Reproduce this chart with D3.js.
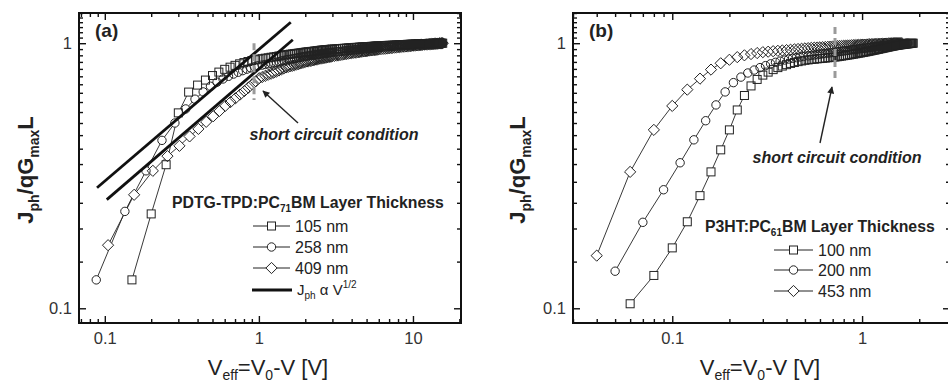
<!DOCTYPE html>
<html><head><meta charset="utf-8">
<script src="https://cdn.jsdelivr.net/npm/d3@7"></script>
<style>
html,body{margin:0;padding:0;background:#fff;}
svg{display:block;font-family:"Liberation Sans",Arial,Helvetica,sans-serif;}
</style></head>
<body>
<svg id="c" width="948" height="385"></svg>
<script>
// ---------- Panel (a) data: PDTG-TPD:PC71BM ----------
const a105V = [0.15,0.2,0.25,0.3,0.35,0.4,0.45,0.5,0.55,0.6,0.65,0.7,0.75,0.8,0.85,0.9,0.95,1.0];
const a105J = [0.128,0.227,0.348,0.546,0.654,0.695,0.726,0.755,0.778,0.797,0.812,0.825,0.836,0.845,0.853,0.86,0.866,0.871];
const a258V = [0.088,0.135,0.185,0.235,0.285,0.335,0.385,0.435,0.485,0.535,0.585,0.635,0.685,0.735,0.785,0.835,0.885,0.935,0.985];
const a258J = [0.128,0.232,0.33,0.43,0.5,0.565,0.615,0.655,0.688,0.713,0.733,0.75,0.765,0.777,0.788,0.798,0.807,0.815,0.822];
const a409V = [0.105,0.155,0.205,0.255,0.305,0.355,0.405,0.455,0.505,0.555,0.605,0.655,0.705,0.755,0.805,0.855,0.905,0.955,1.005];
const a409J = [0.173,0.268,0.33,0.375,0.41,0.445,0.475,0.505,0.53,0.555,0.58,0.6,0.62,0.64,0.66,0.68,0.7,0.718,0.738];
const aHighV = [1.05,1.1,1.15,1.2,1.25,1.3,1.35,1.4,1.45,1.5,1.55,1.6,1.65,1.7,1.75,1.8,1.85,1.9,1.95,2,
  2.05,2.1,2.15,2.2,2.25,2.3,2.35,2.4,2.45,2.5,2.55,2.6,2.65,2.7,2.75,2.8,2.85,2.9,2.95,3,
  3.1,3.2,3.3,3.4,3.5,3.6,3.7,3.8,3.9,4,4.1,4.2,4.3,4.4,4.5,4.6,4.7,4.8,4.9,5,5.1,5.2,5.3,5.4,5.5,5.6,5.7,5.8,5.9,6,
  6.2,6.4,6.6,6.8,7,7.2,7.4,7.6,7.8,8,8.2,8.4,8.6,8.8,9,9.2,9.4,9.6,9.8,10,
  10.2,10.4,10.6,10.8,11,11.2,11.4,11.6,11.8,12,12.2,12.4,12.6,12.8,13,13.2,13.4,13.6,13.8,14,14.2,14.4,14.6,14.8,15,15.2,15.4,15.6];
const a105High = [0.874,0.878,0.881,0.885,0.888,0.891,0.895,0.898,0.902,0.905,0.907,0.909,0.911,0.913,0.915,0.917,0.919,0.921,0.923,0.925,
  0.927,0.928,0.929,0.931,0.932,0.934,0.935,0.937,0.938,0.94,0.941,0.942,0.943,0.944,0.945,0.946,0.947,0.948,0.949,0.95,
  0.951,0.952,0.954,0.955,0.956,0.957,0.958,0.96,0.961,0.962,0.963,0.964,0.964,0.965,0.966,0.967,0.968,0.968,0.969,0.97,
  0.971,0.971,0.972,0.973,0.973,0.974,0.975,0.975,0.976,0.977,
  0.978,0.979,0.98,0.981,0.982,0.982,0.983,0.984,0.985,0.986,0.987,0.987,0.988,0.988,0.989,0.99,0.99,0.991,0.991,0.992,
  0.992,0.993,0.993,0.993,0.994,0.994,0.995,0.995,0.995,0.996,0.996,0.996,0.997,0.997,0.997,0.997,0.998,0.998,0.998,0.998,
  0.999,0.999,0.999,0.999,1.0,1.0,1.0,1.0];
const a258High = [0.827,0.831,0.836,0.84,0.844,0.848,0.852,0.857,0.861,0.865,0.868,0.87,0.873,0.876,0.879,0.881,0.884,0.887,0.889,0.892,
  0.894,0.896,0.897,0.899,0.901,0.903,0.905,0.906,0.908,0.91,0.911,0.913,0.914,0.916,0.917,0.918,0.92,0.921,0.923,0.924,
  0.926,0.928,0.929,0.931,0.933,0.935,0.937,0.938,0.94,0.942,0.943,0.945,0.946,0.947,0.949,0.95,0.951,0.952,0.954,0.955,
  0.956,0.957,0.958,0.959,0.96,0.96,0.961,0.962,0.963,0.964,
  0.965,0.967,0.968,0.969,0.971,0.972,0.973,0.974,0.976,0.977,0.978,0.979,0.98,0.981,0.982,0.982,0.983,0.984,0.985,0.986,
  0.987,0.987,0.988,0.989,0.99,0.99,0.991,0.992,0.992,0.993,0.993,0.994,0.994,0.995,0.995,0.995,0.996,0.996,0.997,0.997,
  0.997,0.998,0.998,0.999,0.999,0.999,1.0,1.0];
const a409High = [0.745,0.753,0.76,0.767,0.774,0.781,0.789,0.796,0.803,0.81,0.814,0.818,0.822,0.826,0.83,0.834,0.838,0.842,0.846,0.85,
  0.853,0.855,0.858,0.86,0.863,0.865,0.868,0.87,0.873,0.875,0.877,0.879,0.88,0.882,0.884,0.886,0.888,0.889,0.891,0.893,
  0.896,0.898,0.901,0.903,0.906,0.908,0.911,0.913,0.916,0.918,0.92,0.921,0.923,0.925,0.927,0.928,0.93,0.932,0.933,0.935,
  0.936,0.938,0.939,0.94,0.942,0.943,0.944,0.946,0.947,0.948,
  0.95,0.952,0.953,0.955,0.957,0.959,0.961,0.962,0.964,0.966,0.967,0.969,0.97,0.971,0.972,0.974,0.975,0.976,0.978,0.979,
  0.98,0.981,0.982,0.983,0.984,0.985,0.986,0.987,0.988,0.989,0.99,0.99,0.991,0.992,0.992,0.993,0.994,0.994,0.995,0.996,
  0.996,0.997,0.997,0.998,0.999,0.999,1.0,1.0];
// J_ph ~ V^1/2 guide lines (end points)
const fit1V = [0.089,1.61], fit1J = [0.285,1.2];
const fit2V = [0.103,1.66], fit2J = [0.257,1.03];
const aShortV = 0.93, aShortJ = [0.61,1.0];

// ---------- Panel (b) data: P3HT:PC61BM ----------
const b100V = [0.06,0.08,0.1,0.12,0.14,0.16,0.18,0.2,0.22,0.24,0.26,0.28,0.3,0.32,0.34,0.36,0.38,0.4,0.42,0.44,0.46,0.48,0.5];
const b100J = [0.104,0.133,0.169,0.212,0.266,0.327,0.396,0.471,0.56,0.635,0.69,0.73,0.758,0.778,0.795,0.809,0.82,0.83,0.839,0.846,0.852,0.857,0.862];
const b200V = [0.05,0.07,0.09,0.11,0.13,0.15,0.17,0.19,0.21,0.23,0.25,0.27,0.29,0.31,0.33,0.35,0.37,0.39,0.41,0.43,0.45,0.47,0.49];
const b200J = [0.138,0.211,0.28,0.354,0.432,0.51,0.585,0.655,0.71,0.745,0.772,0.792,0.809,0.823,0.836,0.847,0.856,0.864,0.871,0.877,0.882,0.887,0.891];
const b453V = [0.04,0.06,0.08,0.1,0.12,0.14,0.16,0.18,0.2,0.22,0.24,0.26,0.28,0.3,0.32,0.34,0.36,0.38,0.4,0.42,0.44,0.46,0.48,0.5];
const b453J = [0.158,0.327,0.471,0.58,0.668,0.735,0.795,0.84,0.866,0.886,0.9,0.91,0.918,0.925,0.929,0.933,0.936,0.939,0.942,0.945,0.948,0.951,0.953,0.956];
const bHighV = [0.52,0.54,0.56,0.58,0.6,0.62,0.64,0.66,0.68,0.7,0.72,0.74,0.76,0.78,0.8,0.82,0.84,0.86,0.88,0.9,
  0.92,0.94,0.96,0.98,1,1.02,1.04,1.06,1.08,1.1,1.12,1.14,1.16,1.18,1.2,1.22,1.24,1.26,1.28,1.3,
  1.32,1.34,1.36,1.38,1.4,1.42,1.44,1.46,1.48,1.5,1.52,1.54,1.56,1.58,1.6,1.62,1.64,1.66,1.68,1.7,
  1.72,1.74,1.76,1.78,1.8,1.82,1.84,1.86];
const b100High = [0.865,0.868,0.87,0.873,0.875,0.877,0.879,0.881,0.883,0.885,0.887,0.889,0.892,0.894,0.897,0.899,0.902,0.904,0.907,0.909,
  0.912,0.914,0.917,0.919,0.922,0.924,0.927,0.929,0.932,0.934,0.937,0.939,0.942,0.944,0.947,0.949,0.952,0.954,0.957,0.959,
  0.961,0.964,0.966,0.968,0.97,0.972,0.974,0.976,0.978,0.98,0.981,0.983,0.984,0.986,0.987,0.988,0.989,0.99,0.992,0.993,
  0.994,0.995,0.996,0.997,0.998,0.999,1.0,1.0];
const b200High = [0.896,0.9,0.903,0.906,0.909,0.912,0.915,0.918,0.92,0.923,0.925,0.928,0.93,0.933,0.935,0.937,0.939,0.942,0.944,0.946,
  0.948,0.95,0.952,0.954,0.956,0.957,0.959,0.961,0.963,0.965,0.966,0.968,0.969,0.971,0.972,0.974,0.975,0.977,0.978,0.98,
  0.981,0.982,0.983,0.984,0.985,0.986,0.987,0.988,0.99,0.991,0.992,0.993,0.993,0.994,0.995,0.996,0.997,0.997,0.998,0.999,
  1.0,1.0,null,null,null,null,null,null];
const b453High = [0.958,0.96,0.962,0.963,0.965,0.966,0.968,0.969,0.971,0.972,0.973,0.975,0.976,0.977,0.978,0.979,0.98,0.981,0.982,0.983,
  0.984,0.985,0.985,0.986,0.987,0.988,0.988,0.989,0.99,0.991,0.991,0.992,0.992,0.993,0.993,0.994,0.994,0.995,0.995,0.996,
  0.996,0.997,0.997,0.998,0.998,0.999,0.999,1.0,1.0,1.0,1.0,1.0,1.0,1.0,1.0,1.0,
  null,null,null,null,null,null,null,null,null,null,null,null];
const bShortV = 0.72, bShortJ = [0.726,1.15];

// ---------- tick labels / legend text ----------
const aXTicks = [0.1,1,10], aXLabels = ["0.1","1","10"];
const bXTicks = [0.1,1], bXLabels = ["0.1","1"];
const yTicks = [0.1,1], yLabels = ["0.1","1"];
const aLegend = ["105 nm","258 nm","409 nm"];
const bLegend = ["100 nm","200 nm","453 nm"];
const shapes = ["square","circle","diamond"];

// ---------- drawing ----------
const svg = d3.select("#c");
const defs = svg.append("defs");
defs.append("marker").attr("id","arr").attr("viewBox","0 0 10 10").attr("refX",9).attr("refY",5)
  .attr("markerWidth",9).attr("markerHeight",7).attr("markerUnits","userSpaceOnUse").attr("orient","auto")
  .append("path").attr("d","M0,0 L10,5 L0,10 z").attr("fill","#222");

const TOP=13, BOT=323;
const yScale = d3.scaleLog().domain([0.088,1.3]).range([BOT,TOP]);
const panels = [
  {x: d3.scaleLog().domain([0.068,20.5]).range([79,461]), xt:aXTicks, xl:aXLabels, tag:"(a)",
   series:[[a105V,a105J,aHighV,a105High],[a258V,a258J,aHighV,a258High],[a409V,a409J,aHighV,a409High]]},
  {x: d3.scaleLog().domain([0.03,2.905]).range([573,950]), xt:bXTicks, xl:bXLabels, tag:"(b)",
   series:[[b100V,b100J,bHighV,b100High],[b200V,b200J,bHighV,b200High],[b453V,b453J,bHighV,b453High]]}
];

function sym(g, shape, cx, cy){
  if(shape==="square") g.append("rect").attr("x",cx-4).attr("y",cy-4).attr("width",8).attr("height",8);
  else if(shape==="circle") g.append("circle").attr("cx",cx).attr("cy",cy).attr("r",4.2);
  else g.append("path").attr("d",`M${cx},${cy-5.6}L${cx+5.6},${cy}L${cx},${cy+5.6}L${cx-5.6},${cy}Z`);
}

panels.forEach((p,pi)=>{
  const x = p.x, [L,R] = x.range();
  const g = svg.append("g");
  const minorX = x.ticks(30).filter(v=>!p.xt.some(t=>Math.abs(t-v)<1e-9));
  const minorY = yScale.ticks(30).filter(v=>!yTicks.some(t=>Math.abs(t-v)<1e-9));
  const mk = (gen, pos)=>{ const a = g.append("g").attr("transform",pos).call(gen); a.select(".domain").remove(); return a; };
  const bx = mk(d3.axisBottom(x).tickValues(p.xt).tickFormat((d,i)=>p.xl[i]).tickSize(-7).tickPadding(9), `translate(0,${BOT})`);
  mk(d3.axisBottom(x).tickValues(minorX).tickFormat("").tickSize(-4), `translate(0,${BOT})`);
  mk(d3.axisTop(x).tickValues(p.xt).tickFormat("").tickSize(-7), `translate(0,${TOP})`);
  mk(d3.axisTop(x).tickValues(minorX).tickFormat("").tickSize(-4), `translate(0,${TOP})`);
  const ly = mk(d3.axisLeft(yScale).tickValues(yTicks).tickFormat((d,i)=>yLabels[i]).tickSize(-7).tickPadding(7), `translate(${L},0)`);
  mk(d3.axisLeft(yScale).tickValues(minorY).tickFormat("").tickSize(-4), `translate(${L},0)`);
  mk(d3.axisRight(yScale).tickValues(yTicks).tickFormat("").tickSize(-7), `translate(${R},0)`);
  mk(d3.axisRight(yScale).tickValues(minorY).tickFormat("").tickSize(-4), `translate(${R},0)`);
  g.selectAll(".tick line").attr("stroke","#111").attr("stroke-width",1.4);
  [bx,ly].forEach(a=>a.selectAll("text").attr("font-size","16.5px").attr("fill","#333").attr("font-family","Liberation Sans, Arial, sans-serif"));
  g.append("rect").attr("x",L).attr("y",TOP).attr("width",R-L).attr("height",BOT-TOP)
    .attr("fill","none").attr("stroke","#111").attr("stroke-width",2);

  const line = d3.line().x(d=>x(d[0])).y(d=>yScale(d[1]));
  const allPts = p.series.map(s=> s[0].map((v,i)=>[v,s[1][i]]).concat(s[2].map((v,i)=>[v,s[3][i]]).filter(d=>d[1]!==null)));
  // layer 1: connecting lines
  allPts.forEach(pts=> g.append("path").attr("d",line(pts)).attr("fill","none").attr("stroke","#222").attr("stroke-width",0.9));
  // layer 2: white marker bodies
  const fillG = g.append("g").attr("fill","#fff").attr("stroke","none");
  allPts.forEach((pts,si)=> pts.forEach(d=>sym(fillG, shapes[si], x(d[0]), yScale(d[1]))));
  // layer 3: marker outlines
  const outG = g.append("g").attr("fill","none").attr("stroke","#222").attr("stroke-width",1);
  allPts.forEach((pts,si)=> pts.forEach(d=>sym(outG, shapes[si], x(d[0]), yScale(d[1]))));

  g.append("text").attr("x",L+16).attr("y",37).attr("font-size","19px").attr("font-weight","bold").attr("fill","#222").text(p.tag);
});

const xa = panels[0].x, xb = panels[1].x;
[[fit1V,fit1J],[fit2V,fit2J]].forEach(f=>{
  svg.append("line").attr("x1",xa(f[0][0])).attr("y1",yScale(f[1][0])).attr("x2",xa(f[0][1])).attr("y2",yScale(f[1][1]))
    .attr("stroke","#111").attr("stroke-width",2.8);
});

function shortCircuit(x, v, js, arrowFrom, arrowTo, textX, textY){
  svg.append("line").attr("x1",x(v)).attr("x2",x(v)).attr("y1",yScale(js[1])).attr("y2",yScale(js[0]))
    .attr("stroke","#9a9a9a").attr("stroke-width",3).attr("stroke-dasharray","7,4");
  svg.append("line").attr("x1",arrowFrom[0]).attr("y1",arrowFrom[1]).attr("x2",arrowTo[0]).attr("y2",arrowTo[1])
    .attr("stroke","#222").attr("stroke-width",1.4).attr("marker-end","url(#arr)");
  svg.append("text").attr("x",textX).attr("y",textY).attr("text-anchor","middle").attr("font-size","16px")
    .attr("font-weight","bold").attr("font-style","italic").attr("fill","#222").text("short circuit condition");
}
shortCircuit(xa, aShortV, aShortJ, [298,123], [263,91], 334, 140);
shortCircuit(xb, bShortV, bShortJ, [820,143], [832,87], 837, 163);

function legend(x0, titleY, title, sub, rest, labels, rowYs, lineX){
  const t = svg.append("text").attr("x",x0).attr("y",titleY).attr("font-size","15.8px").attr("font-weight","bold").attr("fill","#222");
  t.append("tspan").text(title);
  t.append("tspan").attr("font-size","10px").attr("dy",4).text(sub);
  t.append("tspan").attr("dy",-4).text(rest);
  labels.forEach((lab,i)=>{
    const y = rowYs[i];
    svg.append("line").attr("x1",lineX[0]).attr("x2",lineX[1]).attr("y1",y).attr("y2",y).attr("stroke","#222").attr("stroke-width",1);
    const mg = svg.append("g").attr("fill","#fff").attr("stroke","#222").attr("stroke-width",1);
    sym(mg, shapes[i], (lineX[0]+lineX[1])/2, y);
    svg.append("text").attr("x",lineX[1]+5).attr("y",y+5.5).attr("font-size","16px").attr("fill","#222").text(lab);
  });
}
legend(172, 208, "PDTG-TPD:PC", "71", "BM Layer Thickness", aLegend, [226,247,268], [253,290]);
legend(705, 232, "P3HT:PC", "61", "BM Layer Thickness", bLegend, [250,270,291], [774,813]);
svg.append("line").attr("x1",252).attr("x2",292).attr("y1",290).attr("y2",290).attr("stroke","#111").attr("stroke-width",2.8);
const jl = svg.append("text").attr("x",297).attr("y",295).attr("font-size","15px").attr("fill","#222");
jl.append("tspan").text("J");
jl.append("tspan").attr("font-size","10px").attr("dy",4).text("ph");
jl.append("tspan").attr("dy",-4).text(" α V");
jl.append("tspan").attr("font-size","10px").attr("dy",-7).text("1/2");

function xTitle(cx){
  const t = svg.append("text").attr("x",cx).attr("y",375).attr("text-anchor","middle").attr("font-size","22px").attr("fill","#222");
  t.append("tspan").text("V");
  t.append("tspan").attr("font-size","14px").attr("dy",5).text("eff");
  t.append("tspan").attr("dy",-5).text("=V");
  t.append("tspan").attr("font-size","14px").attr("dy",5).text("0");
  t.append("tspan").attr("dy",-5).text("-V [V]");
}
xTitle(268); xTitle(760);
function yTitle(bx, cy){
  const t = svg.append("text").attr("transform",`translate(${bx},${cy}) rotate(-90)`).attr("text-anchor","middle")
    .attr("font-size","22px").attr("font-weight","bold").attr("fill","#222");
  t.append("tspan").text("J");
  t.append("tspan").attr("font-size","14px").attr("dy",6).text("ph");
  t.append("tspan").attr("dy",-6).text("/qG");
  t.append("tspan").attr("font-size","14px").attr("dy",6).text("max");
  t.append("tspan").attr("dy",-6).text("L");
}
yTitle(33, 170); yTitle(525, 170);
</script>
</body></html>
